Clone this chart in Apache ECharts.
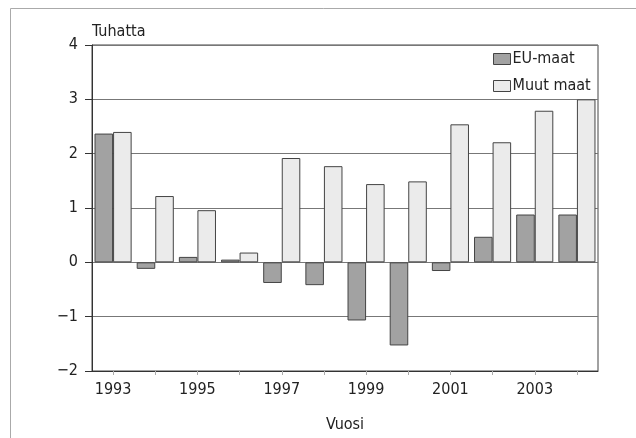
<!DOCTYPE html>
<html>
<head>
<meta charset="utf-8">
<script src="https://cdn.jsdelivr.net/npm/echarts@6/dist/echarts.min.js"></script>
<style>
html,body{margin:0;padding:0;background:#fff;}
#chart{width:636px;height:438px;}
</style>
</head>
<body>
<div id="chart"></div>
<script>
var years = ['1993','1994','1995','1996','1997','1998','1999','2000','2001','2002','2003','2004'];
var euMaat = [2.37, -0.12, 0.10, 0.05, -0.38, -0.42, -1.07, -1.53, -0.16, 0.47, 0.88, 0.88];
var muutMaat = [2.40, 1.22, 0.96, 0.18, 1.92, 1.77, 1.44, 1.49, 2.54, 2.21, 2.79, 3.00];
var yTicks = [-2, -1, 0, 1, 2, 3, 4];

var FONT = "'DejaVu Sans Condensed','DejaVu Sans',sans-serif";
var chart = echarts.init(document.getElementById('chart'), null, {renderer:'canvas'});
chart.setOption({
  animation: false,
  backgroundColor: '#ffffff',
  textStyle: {fontFamily: FONT},
  grid: {left: 92, right: 38, top: 45, bottom: 67, show: true, borderColor: '#444', borderWidth: 1, backgroundColor: 'transparent'},
  graphic: [
    {type: 'line', shape: {x1: 10.5, y1: 8.5, x2: 636, y2: 8.5}, style: {stroke: '#aaa', lineWidth: 1}},
    {type: 'line', shape: {x1: 10.5, y1: 8.5, x2: 10.5, y2: 438}, style: {stroke: '#aaa', lineWidth: 1}}
  ],
  legend: {
    orient: 'vertical', left: 493, top: 51, padding: 0, icon: 'rect',
    itemWidth: 17, itemHeight: 11, itemGap: 11,
    itemStyle: {borderColor: '#444', borderWidth: 1},
    textStyle: {fontFamily: FONT, fontSize: 16, color: '#222', padding: [0, 0, 0, -3]},
    data: ['EU-maat', 'Muut maat']
  },
  xAxis: {
    type: 'category', data: years, boundaryGap: true,
    name: 'Vuosi', nameLocation: 'middle', nameGap: 46,
    nameTextStyle: {fontFamily: FONT, fontSize: 16, color: '#222'},
    axisLine: {show: true, onZero: false, lineStyle: {color: '#333', width: 1}},
    axisTick: {show: true, alignWithLabel: true, interval: 0, length: 4, lineStyle: {color: '#aaa'}},
    axisLabel: {interval: 1, margin: 11, fontFamily: FONT, fontSize: 16, color: '#222'},
    splitLine: {show: false}
  },
  yAxis: {
    type: 'value', min: -2, max: 4, interval: 1,
    name: 'Tuhatta', nameLocation: 'end', nameGap: 5,
    nameTextStyle: {fontFamily: FONT, fontSize: 16, color: '#222', align: 'left', verticalAlign: 'bottom'},
    axisLine: {show: true, lineStyle: {color: '#333', width: 1}},
    axisTick: {show: true, inside: false, length: 7, lineStyle: {color: '#333'}},
    axisLabel: {margin: 14, fontFamily: FONT, fontSize: 16, color: '#222',
      formatter: function (v) { return yTicks.indexOf(v) >= 0 ? String(v).replace('-', '\u2212') : ''; }},
    splitLine: {show: true, lineStyle: {color: '#777', width: 1}}
  },
  series: [
    {name: 'EU-maat', type: 'bar', data: euMaat, barWidth: '44%', barGap: '0%',
      itemStyle: {color: '#a2a2a2', borderColor: '#444', borderWidth: 1}},
    {name: 'Muut maat', type: 'bar', data: muutMaat, barWidth: '44%', barGap: '0%',
      itemStyle: {color: '#ebebeb', borderColor: '#444', borderWidth: 1}}
  ]
});
</script>
</body>
</html>
